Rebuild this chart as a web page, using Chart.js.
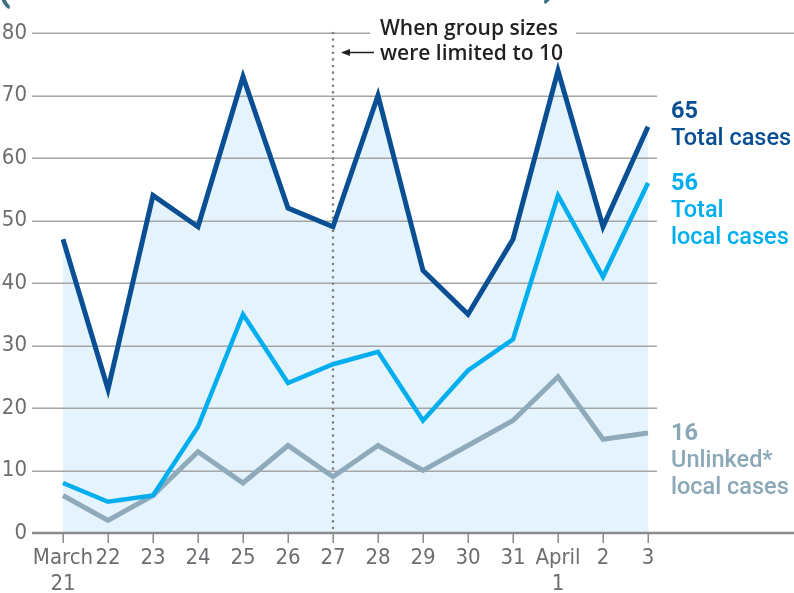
<!DOCTYPE html>
<html>
<head>
<meta charset="utf-8">
<script src="https://cdn.jsdelivr.net/npm/chart.js@4"></script>
<style>
html, body { margin: 0; padding: 0; background: #fff; }
</style>
</head>
<body>
<canvas id="casesChart" width="794" height="593"></canvas>
<script>
// Daily cases, March 21 - April 3
const days = [["March", "21"], "22", "23", "24", "25", "26", "27", "28", "29", "30", "31", ["April", "1"], "2", "3"];
const totalCases = [47, 23, 54, 49, 73, 52, 49, 70, 42, 35, 47, 74, 49, 65];
const localCases = [8, 5, 6, 17, 35, 24, 27, 29, 18, 26, 31, 54, 41, 56];
const unlinkedCases = [6, 2, 6, 13, 8, 14, 9, 14, 10, 14, 18, 25, 15, 16];
const yTicks = [0, 10, 20, 30, 40, 50, 60, 70, 80];
const markerIndex = 6; // March 27

const TICK_FONT = "'Liberation Sans Narrow', 'DejaVu Sans Condensed', 'Roboto', sans-serif";
const LABEL_FONT = "'Roboto', 'Open Sans', sans-serif";
const NOTE_FONT = "'Open Sans', 'Roboto', sans-serif";

const extras = {
  id: 'extras',
  beforeDatasetsDraw(chart) {
    const { ctx, scales: { x, y } } = chart;
    ctx.save();

    // gridlines
    ctx.strokeStyle = '#a5a5a5';
    ctx.lineWidth = 1.5;
    yTicks.forEach(v => {
      if (v === 0) return;
      const py = Math.round(y.getPixelForValue(v)) + 0.25;
      ctx.beginPath();
      if (v === 80) {
        ctx.moveTo(32, py); ctx.lineTo(370, py);
        ctx.moveTo(576, py); ctx.lineTo(794, py);
      } else {
        ctx.moveTo(32, py); ctx.lineTo(657, py);
      }
      ctx.stroke();
    });

    // dotted marker line
    const mx = x.getPixelForValue(markerIndex);
    ctx.strokeStyle = '#808080';
    ctx.lineWidth = 2.6;
    ctx.lineCap = 'round';
    ctx.setLineDash([0, 6.6]);
    ctx.beginPath();
    ctx.moveTo(mx, y.getPixelForValue(80));
    ctx.lineTo(mx, y.getPixelForValue(0));
    ctx.stroke();
    ctx.setLineDash([]);
    ctx.lineCap = 'butt';

    // zero axis + ticks
    const zy = y.getPixelForValue(0);
    ctx.strokeStyle = '#8a8a8a';
    ctx.lineWidth = 2.5;
    ctx.beginPath();
    ctx.moveTo(32, zy); ctx.lineTo(794, zy);
    ctx.stroke();
    ctx.lineWidth = 1.5;
    days.forEach((d, i) => {
      const px = Math.round(x.getPixelForValue(i)) + 0.25;
      ctx.beginPath();
      ctx.moveTo(px, zy); ctx.lineTo(px, zy + 10);
      ctx.stroke();
    });
    ctx.restore();
  },
  afterDraw(chart) {
    const { ctx, scales: { y } } = chart;
    ctx.save();

    // cropped title brackets
    ctx.fillStyle = '#3e6f82';
    ctx.font = "bold 40px " + LABEL_FONT;
    ctx.textBaseline = 'bottom';
    ctx.fillText('(', -3, 10);
    ctx.fillText(')', 543, 5);

    // annotation
    ctx.fillStyle = '#231f20';
    ctx.font = "600 21px " + NOTE_FONT;
    ctx.textAlign = 'left';
    ctx.textBaseline = 'alphabetic';
    ctx.fillText('When group sizes', 380, 35);
    ctx.fillText('were limited to 10', 380, 60);
    ctx.strokeStyle = '#231f20';
    ctx.lineWidth = 1.5;
    ctx.beginPath();
    ctx.moveTo(374, 52.5); ctx.lineTo(343, 52.5);
    ctx.stroke();
    ctx.beginPath();
    ctx.moveTo(341, 52.5); ctx.lineTo(350, 49); ctx.lineTo(350, 56); ctx.closePath();
    ctx.fill();

    // series end labels
    const lx = 671;
    const drawLabel = (color, val, lines, base) => {
      ctx.fillStyle = color;
      ctx.font = "bold 23.5px " + LABEL_FONT;
      ctx.fillText(String(val), lx, base);
      ctx.font = "500 23.5px " + LABEL_FONT;
      lines.forEach((t, i) => ctx.fillText(t, lx, base + 27 * (i + 1)));
    };
    drawLabel('#0a4f94', totalCases[totalCases.length - 1], ['Total cases'],
      y.getPixelForValue(totalCases[totalCases.length - 1]) - 9);
    drawLabel('#00aeef', localCases[localCases.length - 1], ['Total', 'local cases'],
      y.getPixelForValue(localCases[localCases.length - 1]) + 7);
    drawLabel('#8ba8b7', unlinkedCases[unlinkedCases.length - 1], ['Unlinked*', 'local cases'],
      y.getPixelForValue(unlinkedCases[unlinkedCases.length - 1]) + 7);
    ctx.restore();
  }
};

const ctx = document.getElementById("casesChart").getContext("2d");
const chart = new Chart(ctx, {
  type: "line",
  data: {
    labels: days,
    datasets: [
      {
        label: "Total cases",
        data: totalCases,
        borderColor: "#0a4f94",
        backgroundColor: "#e5f4fc",
        borderWidth: 5,
        fill: "origin"
      },
      {
        label: "Total local cases",
        data: localCases,
        borderColor: "#00aeef",
        borderWidth: 4.5,
        fill: false
      },
      {
        label: "Unlinked local cases",
        data: unlinkedCases,
        borderColor: "#8fabbb",
        borderWidth: 5,
        fill: false
      }
    ]
  },
  options: {
    responsive: false,
    animation: false,
    layout: { autoPadding: false, padding: { top: 33, right: 146, left: 0, bottom: 0 } },
    elements: {
      point: { radius: 0 },
      line: { tension: 0, borderJoinStyle: "miter", borderCapStyle: "butt" }
    },
    plugins: {
      legend: { display: false },
      tooltip: { enabled: false },
      filler: { drawTime: "beforeDraw" }
    },
    scales: {
      x: {
        offset: false,
        grid: { display: false, drawTicks: false },
        border: { display: false },
        afterFit: s => { s.height = 60; s.paddingLeft = 0; s.paddingRight = 0; },
        ticks: {
          color: "#6d6e71",
          padding: 12,
          maxRotation: 0,
          autoSkip: false,
          font: { family: TICK_FONT, size: 22 }
        }
      },
      y: {
        min: 0,
        max: 80,
        grid: { display: false, drawTicks: false },
        border: { display: false },
        afterFit: s => { s.width = 63; s.paddingTop = 0; s.paddingBottom = 0; },
        afterBuildTicks: s => { s.ticks = yTicks.map(v => ({ value: v })); },
        ticks: {
          color: "#6d6e71",
          padding: 36,
          font: { family: TICK_FONT, size: 22 }
        }
      }
    }
  },
  plugins: [extras]
});
</script>
</body>
</html>
